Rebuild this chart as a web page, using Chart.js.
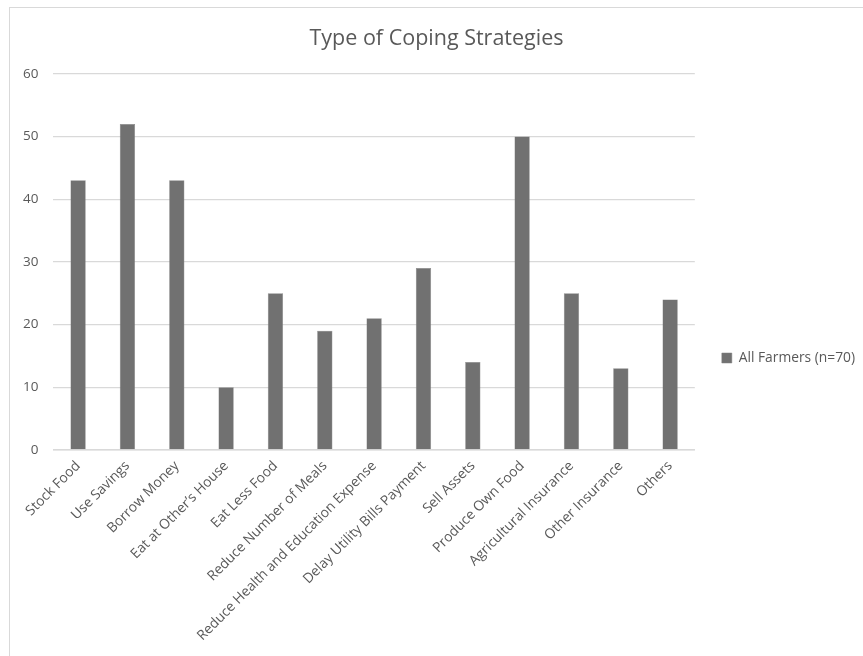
<!DOCTYPE html>
<html>
<head>
<meta charset="utf-8">
<script src="https://cdn.jsdelivr.net/npm/chart.js@4.4.1/dist/chart.umd.min.js"></script>
<style>
  html, body { margin: 0; padding: 0; background: #fff; }
  #frame { position: absolute; left: 9px; top: 7px; width: 870px; height: 660px; border: 1px solid #d9d9d9; }
  #wrap { position: absolute; left: 0; top: 0; width: 863px; height: 656px; }
</style>
</head>
<body>
<div id="frame"></div>
<div id="wrap"><canvas id="chart"></canvas></div>
<script>
// Coping strategies chart data
const categories = [
    "Stock Food", "Use Savings", "Borrow Money", "Eat at Other\u2019s House",
    "Eat Less Food", "Reduce Number of Meals", "Reduce Health and Education Expense",
    "Delay Utility Bills Payment", "Sell Assets", "Produce Own Food",
    "Agricultural Insurance", "Other Insurance", "Others"
];
const seriesName = "All Farmers (n=70)";
const farmers = [43, 52, 43, 10, 25, 19, 21, 29, 14, 50, 25, 13, 24];
const yTicks = [0, 10, 20, 30, 40, 50, 60];

const FONT = "'Open Sans', 'Noto Sans', sans-serif";
const TEXT = "#595959";

Chart.defaults.animation = false;
Chart.defaults.font.family = FONT;
Chart.defaults.color = TEXT;

// nudge the legend down so it sits where Excel put it
const legendNudge = {
    id: 'legendNudge',
    afterLayout(chart) {
        const lg = chart.legend;
        lg.top += 22;
        lg.bottom += 22;
    }
};

new Chart(document.getElementById('chart'), {
    type: 'bar',
    data: {
        labels: categories,
        datasets: [{
            label: seriesName,
            data: farmers,
            backgroundColor: '#717171',
            borderColor: '#7f7f7f',
            borderWidth: 0.5,
            barPercentage: 0.62,
            categoryPercentage: 0.5
        }]
    },
    plugins: [legendNudge],
    options: {
        responsive: true,
        maintainAspectRatio: false,
        layout: { padding: { left: 8, right: -2, top: 20, bottom: 4 } },
        plugins: {
            title: {
                display: true,
                text: 'Type of Coping Strategies',
                font: { size: 21.5, weight: 'normal', family: FONT },
                color: TEXT,
                padding: { top: 6, bottom: 22 }
            },
            legend: {
                position: 'right',
                labels: {
                    boxWidth: 10,
                    boxHeight: 10,
                    padding: 27,
                    font: { size: 13.8, family: FONT },
                    color: TEXT
                }
            },
            tooltip: { enabled: false }
        },
        scales: {
            x: {
                grid: { display: false, drawTicks: false },
                border: { color: '#d9d9d9', width: 1.5 },
                // rotated labels may hang left past the y axis, as in Excel
                afterFit: axis => { axis.paddingLeft = 0; },
                ticks: {
                    maxRotation: 45, minRotation: 45,
                    autoSkip: false,
                    padding: 8,
                    font: { size: 13.8, family: FONT },
                    color: TEXT
                }
            },
            y: {
                min: 0, max: 60,
                afterBuildTicks: axis => { axis.ticks = yTicks.map(v => ({ value: v })); },
                grid: { color: '#d9d9d9', lineWidth: 1.2, drawTicks: false },
                border: { display: false },
                ticks: {
                    padding: 15,
                    font: { size: 13.5, family: FONT },
                    color: TEXT
                }
            }
        }
    }
});
</script>
</body>
</html>
